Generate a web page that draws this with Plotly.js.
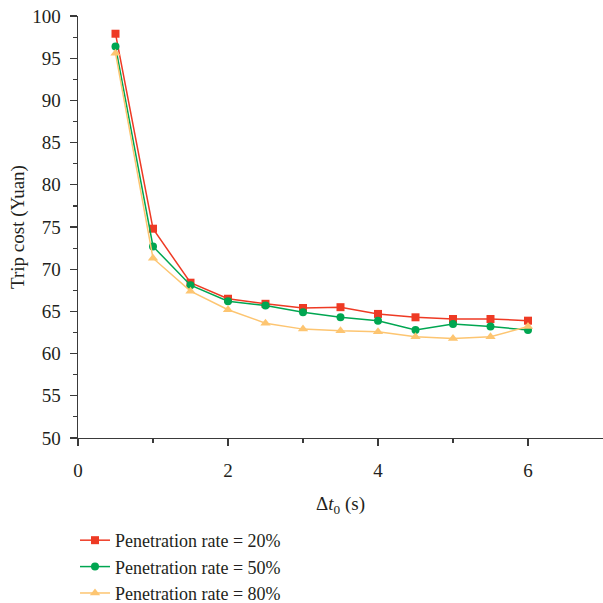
<!DOCTYPE html>
<html><head><meta charset="utf-8">
<script src="https://cdn.plot.ly/plotly-3.0.1.min.js"></script>
<style>html,body{margin:0;padding:0;background:#fff}#chart{width:603px;height:603px}</style>
</head><body><div id="chart"></div>
<script>
const xValues = [0.5, 1, 1.5, 2, 2.5, 3, 3.5, 4, 4.5, 5, 5.5, 6];
const rate20 = [97.9, 74.8, 68.4, 66.5, 65.9, 65.4, 65.5, 64.7, 64.3, 64.1, 64.1, 63.9];
const rate50 = [96.4, 72.7, 68.1, 66.2, 65.7, 64.9, 64.3, 63.9, 62.8, 63.5, 63.2, 62.8];
const rate80 = [95.6, 71.3, 67.4, 65.2, 63.6, 62.9, 62.7, 62.6, 62.0, 61.8, 62.0, 63.2];
const seriesNames = ["Penetration rate = 20%", "Penetration rate = 50%", "Penetration rate = 80%"];
const xTicks = [0, 2, 4, 6];
const xMinorTicks = [1, 3, 5];

const font = "'Liberation Serif', 'Times New Roman', serif";
const ink = "#231f20";
const axisColor = "#3a3a3a";
const traces = [
  {x: xValues, y: rate20, name: seriesNames[0], mode: "lines+markers",
   line: {color: "#ee3a24", width: 1.5}, marker: {symbol: "square", size: 8, color: "#ee3a24"}},
  {x: xValues, y: rate50, name: seriesNames[1], mode: "lines+markers",
   line: {color: "#00a651", width: 1.5}, marker: {symbol: "circle", size: 8, color: "#00a651"}},
  {x: xValues, y: rate80, name: seriesNames[2], mode: "lines+markers",
   line: {color: "#fdc571", width: 1.5}, marker: {symbol: "triangle-up", size: 9, color: "#fdc571"}}
];
const layout = {
  width: 603, height: 603,
  margin: {l: 78, r: 0, t: 16, b: 0, autoexpand: false},
  paper_bgcolor: "#fff", plot_bgcolor: "#fff",
  font: {family: font, color: ink, size: 19},
  showlegend: true,
  legend: {x: -0.0057, y: -0.0153, xanchor: "left", yanchor: "bottom", orientation: "v",
    font: {family: font, size: 18, color: ink}, bgcolor: "rgba(0,0,0,0)", tracegroupgap: 0},
  xaxis: {range: [0, 7], showgrid: false, zeroline: false, showline: true, linecolor: axisColor, linewidth: 1.5,
    ticks: "outside", tickvals: xTicks, ticklen: 7, tickwidth: 1.2, tickcolor: axisColor,
    minor: {tickvals: xMinorTicks, ticklen: 4, tickcolor: axisColor, ticks: "outside"},
    tickfont: {family: font, size: 19, color: ink}, ticklabelstandoff: 8,
    title: {text: "Δ<i>t</i><sub>0</sub> (s)", font: {family: font, size: 19, color: ink}, standoff: 16}},
  yaxis: {domain: [0.2811, 1], range: [50, 100], showgrid: false, zeroline: false, showline: true, linecolor: axisColor, linewidth: 1.5,
    ticks: "outside", dtick: 5, tick0: 50, ticklen: 7, tickwidth: 1.2, tickcolor: axisColor,
    minor: {dtick: 2.5, ticklen: 4, tickcolor: axisColor, ticks: "outside"},
    tickfont: {family: font, size: 19, color: ink}, ticklabelstandoff: 5,
    title: {text: "Trip cost (Yuan)", font: {family: font, size: 19, color: ink}, standoff: 2}}
};
Plotly.newPlot("chart", traces, layout, {staticPlot: true, displayModeBar: false});
</script></body></html>
